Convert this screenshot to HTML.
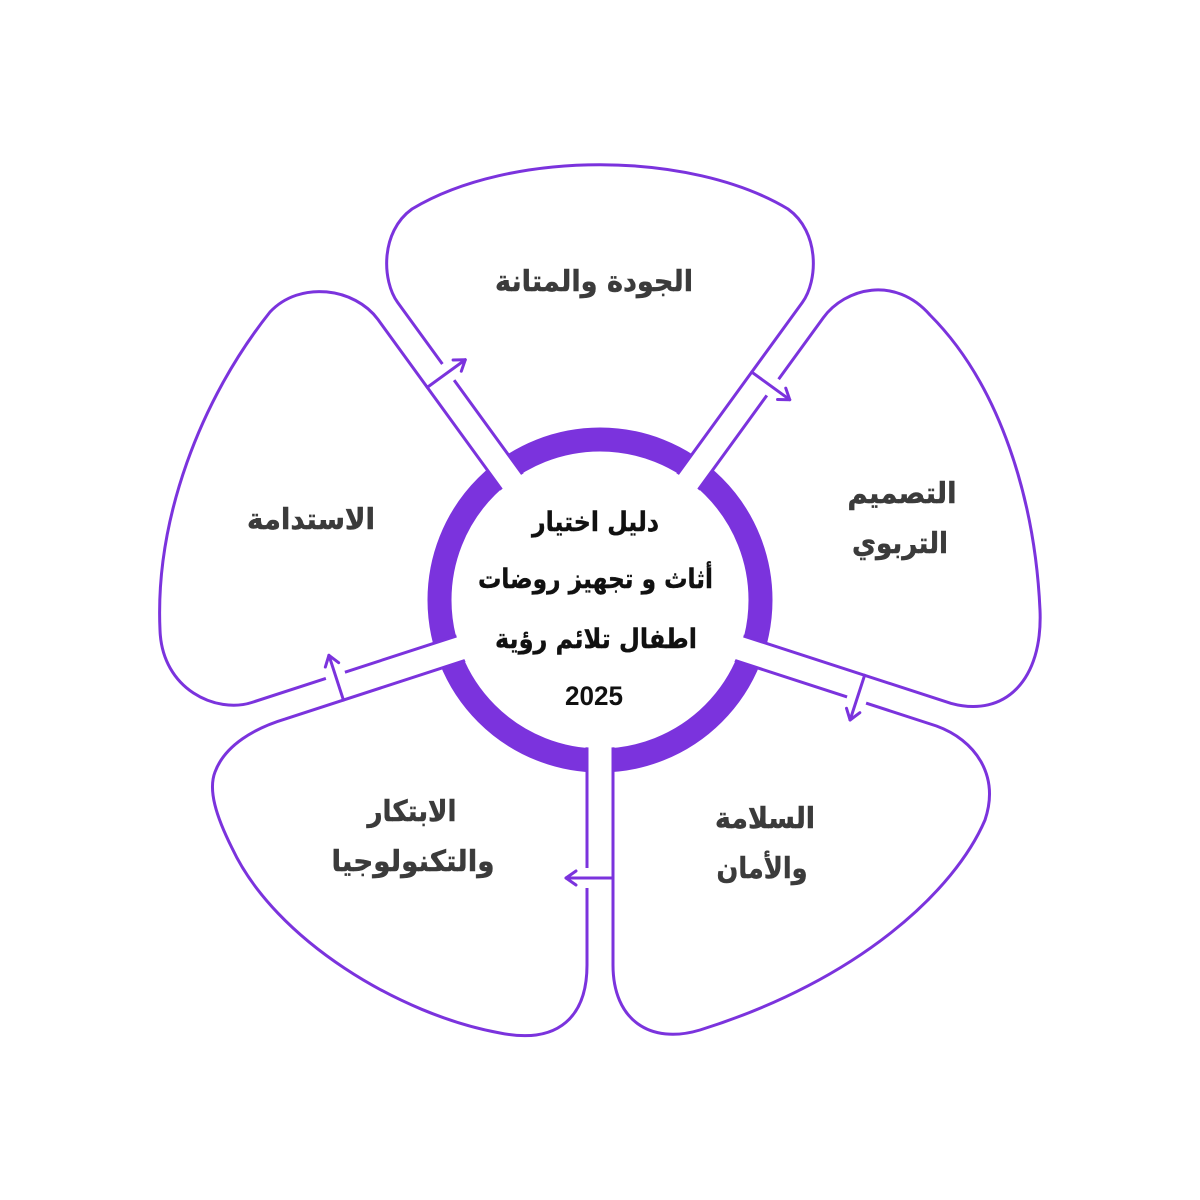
<!DOCTYPE html>
<html>
<head>
<meta charset="utf-8">
<style>
html,body{margin:0;padding:0;background:#fff;width:1200px;height:1200px;overflow:hidden}
svg{display:block}
</style>
</head>
<body>
<svg width="1200" height="1200" viewBox="0 0 1200 1200" xmlns="http://www.w3.org/2000/svg">
  <rect x="0" y="0" width="1200" height="1200" fill="#fff"/>
  <!-- ring -->
  <circle cx="600" cy="600" r="160.5" fill="none" stroke="#7B33DD" stroke-width="24"/>
  <!-- ring cuts -->
  <g fill="#fff">
    <rect x="-12" y="-190" width="24" height="70" transform="translate(600,603) rotate(-36)"/>
    <rect x="-12" y="-190" width="24" height="70" transform="translate(600,603) rotate(36)"/>
    <rect x="-12" y="-190" width="24" height="70" transform="translate(600,603) rotate(108)"/>
    <rect x="-12" y="-190" width="24" height="70" transform="translate(600,603) rotate(180)"/>
    <rect x="-12" y="-190" width="24" height="70" transform="translate(600,603) rotate(252)"/>
  </g>
  <!-- petals -->
  <g fill="none" stroke="#7B33DD" stroke-width="3" stroke-linejoin="round" stroke-linecap="butt">
    <!-- top -->
    <path d="M 528.2,482.1 L 397.7,302.5 C 382,281 380,232 412,209 C 510,150 690,150 788,209 C 820,232 818,281 802.3,302.5 L 671.8,482.1"/>
    <!-- right -->
    <path d="M 692.8,497.4 L 823.3,317.7 C 845,288 895,275 930,315 C 1000,385 1035,500 1040,610 C 1043,680 1005,718 951.2,703.4 L 737.2,633.9"/>
    <!-- lower right -->
    <path d="M 729.1,658.6 L 936.5,726 C 975,740 1000,775 985,820 C 955,890 860,980 700,1030 C 650,1045 613,1020 613,965 L 613,743"/>
    <!-- lower left -->
    <path d="M 587,743 L 587,965 C 587,1015 560,1045 500,1033 C 400,1015 275,940 232,848 C 216,816 208,790 215,772 C 225,745 255,728 285.4,718.9 L 470.9,658.6"/>
    <!-- left -->
    <path d="M 462.8,633.9 L 251.7,702.5 C 216.7,713.9 162,690 160,630 C 155,520 200,400 270,312 C 300,280 355,288 377.9,319.4 L 507.2,497.4"/>
  </g>
  <!-- gaps in lines for arrows -->
  <g fill="#fff">
    <rect x="9" y="-286" width="8" height="20" transform="translate(600,603) rotate(-36)"/>
    <rect x="9" y="-286" width="8" height="20" transform="translate(600,603) rotate(36)"/>
    <rect x="9" y="-284" width="8" height="20" transform="translate(600,603) rotate(108)"/>
    <rect x="9" y="-285" width="8" height="20" transform="translate(600,603) rotate(180)"/>
    <rect x="9" y="-284" width="8" height="20" transform="translate(600,603) rotate(252)"/>
  </g>
  <!-- arrows -->
  <g fill="none" stroke="#7B33DD" stroke-width="3" stroke-linejoin="round" stroke-linecap="round">
    <g transform="translate(600,603) rotate(-36)">
      <line x1="-13" y1="-276" x2="34" y2="-276"/>
      <polyline points="24,-283 34,-276 24,-269"/>
    </g>
    <g transform="translate(600,603) rotate(36)">
      <line x1="-13" y1="-276" x2="34" y2="-276"/>
      <polyline points="24,-283 34,-276 24,-269"/>
    </g>
    <g transform="translate(600,603) rotate(108)">
      <line x1="-13" y1="-274" x2="34" y2="-274"/>
      <polyline points="24,-281 34,-274 24,-267"/>
    </g>
    <g transform="translate(600,603) rotate(180)">
      <line x1="-13" y1="-275" x2="34" y2="-275"/>
      <polyline points="24,-282 34,-275 24,-268"/>
    </g>
    <g transform="translate(600,603) rotate(252)">
      <line x1="-13" y1="-274" x2="34" y2="-274"/>
      <polyline points="24,-281 34,-274 24,-267"/>
    </g>
  </g>
  <!-- inner white -->
  <circle cx="600" cy="600" r="148" fill="#fff"/>

  <!-- petal labels -->
  <g font-family="'DejaVu Sans', 'Liberation Sans', sans-serif" font-weight="bold" fill="#3b3b3b" stroke="#3b3b3b" stroke-width="0.5" text-anchor="middle" font-size="29">
    <text x="594" y="291" textLength="198" lengthAdjust="spacingAndGlyphs">الجودة والمتانة</text>
    <text x="902" y="503" textLength="109" lengthAdjust="spacingAndGlyphs">التصميم</text>
    <text x="900" y="553" textLength="96" lengthAdjust="spacingAndGlyphs">التربوي</text>
    <text x="765" y="828" textLength="100" lengthAdjust="spacingAndGlyphs">السلامة</text>
    <text x="762" y="878" textLength="91" lengthAdjust="spacingAndGlyphs">والأمان</text>
    <text x="412" y="821" textLength="89" lengthAdjust="spacingAndGlyphs">الابتكار</text>
    <text x="413" y="871" textLength="163" lengthAdjust="spacingAndGlyphs">والتكنولوجيا</text>
    <text x="311" y="529" textLength="128" lengthAdjust="spacingAndGlyphs">الاستدامة</text>
  </g>

  <!-- center text -->
  <g font-family="'DejaVu Sans', 'Liberation Sans', sans-serif" font-weight="bold" fill="#111" stroke="#111" stroke-width="0.4" text-anchor="middle" font-size="27">
    <text x="595.5" y="531" textLength="127" lengthAdjust="spacingAndGlyphs">دليل اختيار</text>
    <text x="595.5" y="588" textLength="235" lengthAdjust="spacingAndGlyphs">أثاث و تجهيز روضات</text>
    <text x="596" y="648" textLength="202" lengthAdjust="spacingAndGlyphs">اطفال تلائم رؤية</text>
  </g>
  <text x="594" y="705" font-family="'Liberation Sans', sans-serif" font-weight="bold" font-size="27" fill="#111" text-anchor="middle" textLength="58" lengthAdjust="spacingAndGlyphs">2025</text>
</svg>
</body>
</html>
